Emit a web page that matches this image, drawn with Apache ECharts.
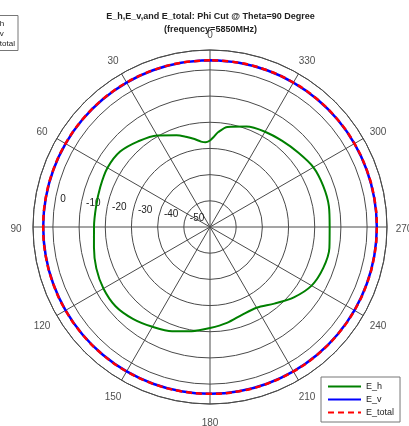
<!DOCTYPE html>
<html><head><meta charset="utf-8">
<script src="https://cdn.jsdelivr.net/npm/echarts@6/dist/echarts.min.js"></script>
<style>html,body{margin:0;padding:0;background:#fff}#c{width:409px;height:426px}</style>
</head><body><div id="c"></div>
<script>
const titleLines = ['E_h,E_v,and E_total: Phi Cut @ Theta=90 Degree', '(frequency=5850MHz)'];
const seriesNames = ['E_h', 'E_v', 'E_total'];
const radiusMin = -60, radiusMax = 7.6, radiusStep = 10;
const angleMin = 0, angleMax = 360, angleStep = 30;
const angleTickLabels = [0, 30, 60, 90, 120, 150, 180, 210, 240, 270, 300, 330];

const ehAngles = [0, 3, 6, 10, 15, 20, 30, 40, 50, 60, 70, 80, 90, 100, 110, 120, 130, 140, 150, 160, 170,
  180, 190, 200, 210, 220, 230, 240, 250, 260, 270, 280, 290, 300, 310, 320, 330, 340, 350, 355, 358, 360];
const ehValues = [-27.0, -27.6, -27.2, -25.9, -24.3, -22.7, -19.6, -17.3, -15.2, -14.8, -15.4, -15.8, -15.7,
  -15.0, -13.8, -13.0, -12.9, -14.2, -16.0, -17.6, -19.6, -21.4, -22.8, -24.3, -24.4, -21.8, -18.2, -15.2,
  -14.0, -13.7, -14.3, -13.9, -14.0, -14.4, -15.9, -17.1, -18.0, -19.2, -21.2, -23.6, -25.8, -27.0];

const evAngles = [0, 10, 20, 30, 40, 50, 60, 70, 80, 90, 100, 110, 120, 130, 140, 150, 160, 170, 180,
  190, 200, 210, 220, 230, 240, 250, 260, 270, 280, 290, 300, 310, 320, 330, 340, 350, 360];
const evValues = [3.7, 3.7, 3.7, 3.7, 3.7, 3.7, 3.7, 3.7, 3.7, 3.7, 3.7, 3.7, 3.7, 3.7, 3.7, 3.7, 3.7, 3.7, 3.7,
  3.7, 3.7, 3.7, 3.7, 3.7, 3.7, 3.7, 3.7, 3.7, 3.7, 3.7, 3.7, 3.7, 3.7, 3.7, 3.7, 3.7, 3.7];
const etotalValues = [3.7, 3.7, 3.7, 3.7, 3.7, 3.7, 3.7, 3.7, 3.7, 3.7, 3.7, 3.7, 3.7, 3.7, 3.7, 3.7, 3.7, 3.7, 3.7,
  3.7, 3.7, 3.7, 3.7, 3.7, 3.7, 3.7, 3.7, 3.7, 3.7, 3.7, 3.7, 3.7, 3.7, 3.7, 3.7, 3.7, 3.7];

const FONT = 'Liberation Sans, Arial, sans-serif';
const GRID = '#4a4a4a';
const hiddenAngle = {axisLine: {show: false}, axisTick: {show: false}, axisLabel: {show: false}, splitLine: {show: false}};

const chart = echarts.init(document.getElementById('c'), null, {renderer: 'canvas'});
chart.setOption({
  animation: false,
  backgroundColor: '#fff',
  title: {
    text: titleLines.join('\n'),
    left: 210.5, top: 10, textAlign: 'center', padding: 0,
    textStyle: {fontFamily: FONT, fontSize: 9, fontWeight: 'bold', color: '#222', lineHeight: 13}
  },
  legend: {
    data: seriesNames, orient: 'vertical', left: 321, top: 377,
    padding: [5, 6, 5, 6], itemGap: 4, itemWidth: 33, itemHeight: 10,
    backgroundColor: '#fff', borderColor: '#777', borderWidth: 1,
    itemStyle: {opacity: 0},
    textStyle: {fontFamily: FONT, fontSize: 9, color: '#222'}
  },
  polar: [
    {center: [210, 227], radius: 177},
    {center: [210, 227], radius: 177},
    {center: [210, 227], radius: 194}
  ],
  angleAxis: [
    Object.assign({polarIndex: 0, type: 'value', min: angleMin, max: angleMax, interval: angleStep,
      startAngle: 90, clockwise: false}, {
      axisLine: {show: true, lineStyle: {color: GRID, width: 1}},
      axisTick: {show: false}, axisLabel: {show: false},
      splitLine: {show: true, lineStyle: {color: GRID, width: 1}}}),
    Object.assign({polarIndex: 1, type: 'value', min: angleMin, max: angleMax, startAngle: 172, clockwise: false}, hiddenAngle),
    Object.assign({polarIndex: 2, type: 'value', min: angleMin, max: angleMax, startAngle: 90, clockwise: false}, hiddenAngle)
  ],
  radiusAxis: [
    {polarIndex: 0, type: 'value', min: radiusMin, max: radiusMax, interval: radiusStep,
      axisLine: {show: false}, axisTick: {show: false}, axisLabel: {show: false},
      splitLine: {show: true, lineStyle: {color: GRID, width: 1}}},
    {polarIndex: 1, type: 'value', min: radiusMin, max: radiusMax, interval: radiusStep,
      axisLine: {show: false}, axisTick: {show: false}, splitLine: {show: false},
      axisLabel: {show: true, margin: -5.5, align: 'left', verticalAlign: 'middle', padding: [0, 0, 0, 5],
        fontFamily: FONT, fontSize: 10, color: '#222',
        formatter: v => (v > radiusMin && v <= 0) ? String(v) : ''}},
    Object.assign({polarIndex: 2, type: 'value', min: 0, max: 1}, hiddenAngle)
  ],
  graphic: [
    {type: 'rect', shape: {x: -40, y: 15.5, width: 58, height: 35}, style: {fill: '#fff', stroke: '#777', lineWidth: 1}},
    {type: 'text', x: -10, y: 19.5, style: {text: seriesNames[0], font: '8px ' + FONT, fill: '#222'}},
    {type: 'text', x: -10, y: 29.5, style: {text: seriesNames[1], font: '8px ' + FONT, fill: '#222'}},
    {type: 'text', x: -10, y: 39.5, style: {text: seriesNames[2], font: '8px ' + FONT, fill: '#222'}}
  ],
  series: [
    {name: seriesNames[0], type: 'line', coordinateSystem: 'polar', polarIndex: 0,
      data: ehAngles.map((a, i) => [ehValues[i], a]), symbol: 'none', smooth: 0.3,
      lineStyle: {color: '#008000', width: 2}, itemStyle: {color: '#008000'}, z: 3},
    {name: seriesNames[1], type: 'line', coordinateSystem: 'polar', polarIndex: 0,
      data: evAngles.map((a, i) => [evValues[i], a]), symbol: 'none', smooth: 0.4,
      lineStyle: {color: '#0000ff', width: 2.5}, itemStyle: {color: '#0000ff'}, z: 3},
    {name: seriesNames[2], type: 'line', coordinateSystem: 'polar', polarIndex: 0,
      data: evAngles.map((a, i) => [etotalValues[i], a]), symbol: 'none', smooth: 0.4,
      lineStyle: {color: '#ff0000', width: 2.5, type: [6, 4]}, itemStyle: {color: '#ff0000'}, z: 4},
    {name: 'angleLabels', type: 'scatter', coordinateSystem: 'polar', polarIndex: 2, silent: true,
      data: angleTickLabels.map(a => [1, a]), symbolSize: 1, clip: false,
      itemStyle: {color: 'rgba(255,255,255,0)'},
      label: {show: true, position: 'inside', offset: [0, 2], formatter: p => String(p.value[1]),
        fontFamily: FONT, fontSize: 10, color: '#222'}, z: 5}
  ]
});
</script></body></html>
